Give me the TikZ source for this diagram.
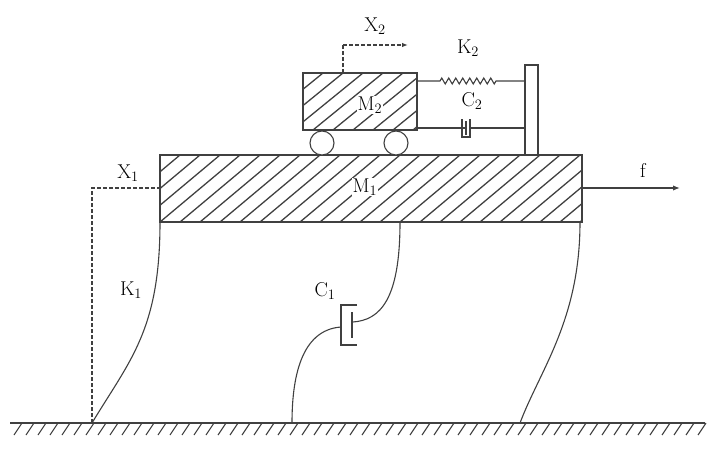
\documentclass[tikz,border=0pt]{standalone}
\usetikzlibrary{decorations.pathmorphing,arrows.meta}
\begin{document}
\begin{tikzpicture}[x=1pt,y=-1pt,line width=1.1pt,draw=black!75,
  lbl/.style={font=\fontsize{20}{24}\selectfont,inner sep=1pt},
  mass/.style={draw},
  dsh/.style={draw,dashed,dash pattern=on 4pt off 2pt}]
\useasboundingbox (0,0) rectangle (715,455);
% ground
\coordinate (g1) at (10,423); \coordinate (g2) at (705,423);
\draw (g1) -- (g2);
\foreach \i in {0,...,57} \draw (14+\i*12,435) -- (22+\i*12,423);
% M1
\node[mass,minimum width=422pt,minimum height=67pt,inner sep=0] (m1) at (371,188.5) {};
\begin{scope}
\clip (m1.north west) rectangle (m1.south east);
\foreach \i in {0,...,34} \draw[line width=1.3pt] (160+\i*20-80,222) -- (160+\i*20,155);
\end{scope}
\node[lbl,fill=white,inner sep=1pt] (m1l) at (365,187) {M$_1$};
% M2
\node[mass,minimum width=114pt,minimum height=57pt,inner sep=0] (m2) at (360,101.5) {};
\begin{scope}
\clip (m2.north west) rectangle (m2.south east);
\foreach \i in {0,...,10} \draw[line width=1.3pt] (303+\i*20-70,130) -- (303+\i*20,73);
\end{scope}
\node[lbl,fill=white,inner sep=1pt] (m2l) at (370,105) {M$_2$};
\node[draw,circle,fill=white,minimum size=24pt,inner sep=0] (r1) at (322,143) {};
\node[draw,circle,fill=white,minimum size=24pt,inner sep=0] (r2) at (396,143) {};
% wall post
\node[draw,fill=white,minimum width=13pt,minimum height=90pt,inner sep=0] (post) at (531.5,110) {};
% spring K2
\coordinate (s1) at (417,81); \coordinate (s2) at (525,81);
\draw (s1) -- (440,81) decorate[decoration={zigzag,segment length=7pt,amplitude=3pt}]{-- (496,81)} -- (s2);
\node[lbl] (k2) at (468,48) {K$_2$};
% damper C2
\draw (417,128) -- (465,128); \draw (470,128) -- (525,128);
\draw (462,119) -- (462,137) -- (470,137) -- (470,119);
\draw (466,121) -- (466,135);
\node[lbl] (c2) at (472,101) {C$_2$};
% X2
\draw[dsh] (343,73) -- (343,45);
\draw[dsh,-{Latex[length=6pt]}] (343,45) -- (408,45);
\node[lbl] (x2) at (375,26) {X$_2$};
% X1
\draw[dsh] (92,423) -- (92,188) -- (160,188);
\node[lbl] (x1) at (128,173) {X$_1$};
% K1
\draw (160,222) .. controls (160,330) and (130,360) .. (92,423);
\node[lbl] (k1) at (131,290) {K$_1$};
% C1
\draw (400,222) .. controls (400,300) and (380,320) .. (353,322);
\draw (357,305) -- (341,305) -- (341,345) -- (357,345);
\draw (352,312) -- (352,338);
\draw (341,327) .. controls (300,330) and (292,380) .. (292,423);
\node[lbl] (c1) at (325,291) {C$_1$};
% right curve
\draw (580,222) .. controls (580,320) and (540,370) .. (520,423);
% f
\draw[-{Latex[length=7pt]}] (582,188) -- (680,188);
\node[lbl] (f) at (643,170) {f};
\end{tikzpicture}
\end{document}
